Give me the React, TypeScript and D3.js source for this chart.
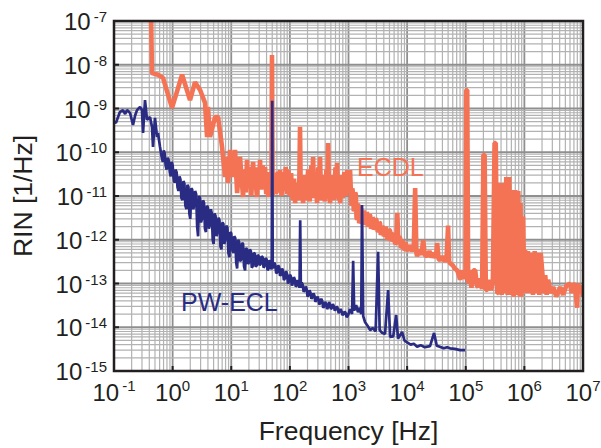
import React from "react";
import * as d3 from "d3";

const width = 601;
const height = 448;
const margin = { left: 114, right: 18, top: 21, bottom: 77 };

const xTickExps = [-1, 0, 1, 2, 3, 4, 5, 6, 7];
const yTickExps = [-15, -14, -13, -12, -11, -10, -9, -8, -7];

// PW-ECL spectrum, [frequency Hz, RIN 1/Hz]
const pwEcl: [number, number][] = [
  [0.1, 4.9e-10], [0.108, 4.7e-10], [0.126, 8.3e-10], [0.142, 9.2e-10], [0.155, 7.5e-10],
  [0.167, 9.2e-10], [0.188, 7.9e-10], [0.211, 4.2e-10], [0.23, 7.0e-10], [0.247, 9.2e-10],
  [0.278, 1.08e-9], [0.3, 9.2e-10], [0.313, 2.75e-10], [0.338, 1.56e-9], [0.366, 5.5e-10],
  [0.411, 6.4e-10], [0.445, 3.8e-10], [0.463, 1.32e-10], [0.5, 6.1e-10], [0.542, 2.23e-10],
  [0.563, 2.75e-10], [0.61, 1.32e-10], [0.63, 1.0e-10], [0.655, 7.5e-11], [0.68, 6.0e-11],
  [0.705, 1.1e-10], [0.73, 9.5e-11], [0.76, 5e-11], [0.79, 4.0e-11], [0.825, 7.5e-11],
  [0.86, 6.5e-11], [0.895, 3.5e-11], [0.93, 2.8e-11], [0.965, 6e-11], [1.0, 5.0e-11],
  [1.04, 2.6e-11], [1.08, 2.0e-11], [1.12, 4e-11], [1.17, 3.5e-11], [1.21, 1.6e-11],
  [1.26, 1.3e-11], [1.31, 2.8e-11], [1.36, 2.4e-11], [1.41, 9e-12], [1.47, 8e-12],
  [1.53, 2.2e-11], [1.59, 1.9e-11], [1.65, 6e-12], [1.72, 5e-12], [1.79, 1.8e-11],
  [1.86, 1.6e-11], [1.93, 4e-12], [2.0, 3e-12], [2.08, 1.5e-11], [2.16, 1.4e-11],
  [2.25, 5e-12], [2.33, 6e-12], [2.42, 1.3e-11], [2.52, 1.1e-11], [2.62, 2e-12],
  [2.72, 1.2e-12], [2.83, 1.0e-11], [2.94, 9e-12], [3.05, 2.5e-12], [3.17, 3e-12],
  [3.3, 8e-12], [3.43, 7e-12], [3.56, 1.8e-12], [3.7, 1.5e-12], [3.85, 6e-12],
  [4.0, 5.5e-12], [4.16, 1.8e-12], [4.32, 2.2e-12], [4.49, 5e-12], [4.66, 4e-12],
  [4.83, 1.0e-12], [5.0, 8e-13], [5.2, 4e-12], [5.4, 3.5e-12], [5.62, 1.2e-12],
  [5.85, 1.5e-12], [6.07, 3.2e-12], [6.3, 2.8e-12], [6.55, 7e-13], [6.8, 6e-13],
  [7.07, 2.5e-12], [7.35, 2.3e-12], [7.62, 8e-13], [7.9, 1.0e-12], [8.25, 2.1e-12],
  [8.6, 1.9e-12], [8.95, 5e-13], [9.3, 4e-13], [9.65, 1.5e-12], [10, 1.4e-12],
  [10.4, 6e-13], [10.8, 5e-13], [11.25, 1.2e-12], [11.7, 1.1e-12], [12.15, 3e-13],
  [12.6, 2.2e-13], [13.1, 1.0e-12], [13.6, 9e-13], [14.15, 3.2e-13], [14.7, 3.5e-13],
  [15.3, 8.5e-13], [15.9, 8e-13], [16.5, 2.5e-13], [17.2, 2e-13], [17.9, 6.5e-13],
  [18.6, 6e-13], [19.3, 2.8e-13], [20, 3e-13], [20.8, 6e-13], [21.6, 5.5e-13],
  [22.4, 2.3e-13], [23.3, 2.5e-13], [24.2, 5e-13], [25.2, 4.8e-13], [26.2, 2.4e-13],
  [27.2, 2.6e-13], [28.3, 4.5e-13], [29.4, 4.2e-13], [30.5, 2.6e-13], [31.7, 2.8e-13],
  [33, 4.2e-13], [34.3, 4e-13], [35.6, 2.3e-13], [37, 2.5e-13], [38.5, 3.8e-13],
  [40, 3.6e-13], [41.6, 2e-13], [43.2, 2.2e-13], [44.9, 3.4e-13], [46.6, 3.2e-13],
  [48, 2.1e-13], [49, 2.4e-13], [50, 1.5e-9], [51, 2.2e-13], [54, 3e-13],
  [56, 2.7e-13], [58.5, 1.7e-13], [60.5, 1.8e-13], [63, 2.6e-13], [65.5, 2.4e-13],
  [68, 1.5e-13], [70.5, 1.6e-13], [73.5, 2.2e-13], [76, 2.0e-13], [79, 1.2e-13],
  [82, 1.3e-13], [86, 1.9e-13], [89, 1.7e-13], [93, 1.0e-13], [96, 1.1e-13],
  [100, 1.6e-13], [104, 1.45e-13], [108, 9e-14], [112, 1.0e-13], [117, 1.4e-13],
  [121, 1.25e-13], [126, 8.5e-14], [131, 9e-14], [136, 1.2e-13], [141, 1.1e-13],
  [146, 8e-14], [150, 2.8e-12], [154, 8e-14], [159, 1.05e-13], [165, 9.5e-14],
  [172, 6.5e-14], [179, 7e-14], [186, 8.5e-14], [193, 7.5e-14], [200, 5e-14],
  [208, 5.5e-14], [216, 7e-14], [224, 6.2e-14], [233, 4.5e-14], [242, 4.8e-14],
  [252, 6e-14], [262, 5.3e-14], [272, 3.8e-14], [283, 4.2e-14], [294, 5e-14],
  [305, 4.5e-14], [317, 3.3e-14], [330, 3.6e-14], [343, 4.5e-14], [356, 4e-14],
  [370, 2.8e-14], [385, 3.0e-14], [400, 3.8e-14], [416, 3.4e-14], [432, 2.6e-14],
  [449, 2.9e-14], [466, 3.8e-14], [483, 3.3e-14], [500, 2.6e-14], [520, 2.8e-14],
  [540, 3.4e-14], [562, 3.0e-14], [585, 2.4e-14], [607, 2.6e-14], [630, 3.0e-14],
  [655, 2.7e-14], [680, 2.1e-14], [707, 2.3e-14], [735, 2.6e-14], [762, 2.3e-14],
  [790, 1.9e-14], [825, 2.0e-14], [860, 2.3e-14], [895, 2.1e-14], [930, 1.7e-14],
  [965, 1.8e-14], [1000, 2.0e-14], [1060, 2.6e-14], [1150, 2.0e-14], [1200, 3.3e-13],
  [1250, 2.4e-14], [1350, 3.2e-14], [1450, 2.2e-14], [1550, 2.8e-14], [1650, 2.0e-14],
  [1700, 6.2e-12], [1780, 1.8e-14], [1920, 1.3e-14], [2100, 1.1e-14], [2340, 8.6e-15],
  [2600, 9.5e-15], [2900, 8e-15], [3200, 5.3e-13], [3400, 8.5e-15], [3740, 7.5e-15],
  [4200, 7e-15], [4740, 7.1e-14], [5130, 6e-15], [5800, 6.2e-15], [6500, 1.9e-14],
  [7000, 5.5e-15], [8200, 7.8e-15], [9000, 5e-15], [1e4, 4.5e-15], [1.15e4, 4.0e-15],
  [1.3e4, 4.2e-15], [1.48e4, 3.6e-15], [1.7e4, 3.9e-15], [2e4, 3.5e-15], [2.46e4, 3.7e-15],
  [2.88e4, 7.4e-15], [3.2e4, 3.8e-15], [3.6e4, 3.6e-15], [4.2e4, 3.3e-15], [4.8e4, 3.5e-15],
  [5.4e4, 3.3e-15], [6.5e4, 3.2e-15], [8e4, 3.0e-15], [9.8e4, 3.0e-15],
];

// ECDL spectrum, [frequency Hz, RIN 1/Hz]
const ecdl: [number, number][] = [
  [0.43, 1e-7], [0.445, 6.5e-9], [0.563, 5.9e-9], [0.685, 5.0e-9], [0.977, 1.03e-9],
  [1.45, 5.9e-9], [1.98, 1.56e-9], [2.41, 4.0e-9], [2.94, 2.65e-9], [3.57, 1.34e-9],
  [3.87, 2.23e-10], [4.0, 1.08e-9], [4.35, 2.23e-10], [5.3, 6.4e-10], [5.96, 6.4e-10],
  [6.97, 1.32e-10], [7.84, 2.7e-11], [8.47, 7.8e-11], [8.8, 1.98e-11], [9.55, 1.13e-10],
  [10.7, 2.7e-11], [11.6, 1.13e-10], [12.6, 1.17e-11], [14.1, 7.8e-11], [15.9, 9.5e-12],
  [16.5, 2.5e-11], [17.0, 4.0e-11], [17.4, 2.2e-11], [17.8, 1.2e-11], [18.2, 3.5e-11],
  [18.6, 6.7e-11], [19.0, 3.0e-11], [19.5, 1.5e-11], [20.2, 2.8e-11], [20.9, 4.6e-11],
  [21.4, 1.8e-11], [22.0, 1.0e-11], [22.8, 3.0e-11], [23.6, 6.0e-11], [24.0, 3.5e-11],
  [24.5, 2.0e-11], [25.0, 3.2e-11], [25.5, 4.5e-11], [26.5, 1.6e-11], [27.5, 9.5e-12],
  [28.2, 2.2e-11], [29.0, 3.5e-11], [30.0, 2.5e-11], [31.0, 6.7e-11], [31.7, 2.5e-11],
  [32.5, 1.4e-11], [33.5, 3.0e-11], [34.5, 5.0e-11], [35.2, 2.6e-11], [36.0, 1.8e-11],
  [36.8, 3.2e-11], [37.7, 4.6e-11], [38.6, 2.0e-11], [39.5, 1.1e-11], [40.2, 2.0e-11],
  [41.0, 3.0e-11], [41.8, 1.5e-11], [42.5, 9.5e-12], [43.5, 2.2e-11], [44.5, 3.5e-11],
  [45.5, 1.8e-11], [46.5, 1.2e-11], [47.5, 2.0e-11], [48.5, 2.5e-11], [49.5, 1.67e-8],
  [51, 1.0e-11], [52, 2.0e-11], [53, 2.8e-11], [54.5, 1.6e-11], [55.8, 3.35e-11],
  [57, 1.8e-11], [58, 1.1e-11], [60, 2.2e-11], [62, 3.6e-11], [63.5, 2.0e-11],
  [65, 1.2e-11], [66.5, 2.5e-11], [68, 3.9e-11], [70, 2.0e-11], [72, 1.0e-11],
  [74, 2.0e-11], [76, 3.5e-11], [78, 2.0e-11], [80, 1.3e-11], [82.5, 2.6e-11],
  [85, 4.6e-11], [87, 2.2e-11], [89.6, 1.1e-11], [92, 2.2e-11], [94, 4.0e-11],
  [97, 1.8e-11], [100, 1.0e-11], [102.5, 2.0e-11], [105, 3.35e-11], [108, 1.5e-11],
  [112, 8e-12], [115, 1.6e-11], [118, 2.5e-11], [120, 1.2e-11], [123, 6.9e-12],
  [125.5, 1.4e-11], [128, 2.0e-11], [132, 1.0e-11], [136, 1.5e-11], [140, 8e-12],
  [144, 1.2e-11], [149, 3.8e-10], [153, 1.2e-11], [158, 8e-12], [163, 1.4e-11],
  [168, 6.9e-12], [174, 1.6e-11], [180, 3.0e-11], [186, 1.2e-11], [192, 8e-12],
  [198, 2.0e-11], [205, 4.0e-11], [211, 1.4e-11], [218, 7.5e-12], [225, 2.2e-11],
  [232, 5.0e-11], [240, 2.0e-11], [249, 7.8e-11], [254, 2.5e-11], [260, 9e-12],
  [267, 1.8e-11], [275, 3.5e-11], [283, 1.4e-11], [291, 6.9e-12], [298, 2.0e-11],
  [305, 4.5e-11], [316, 1.5e-11], [327, 7.8e-11], [336, 2.0e-11], [345, 8e-12],
  [357, 1.6e-11], [370, 3.0e-11], [382, 1.2e-11], [395, 7.5e-12], [407, 1.8e-11],
  [420, 4.0e-11], [434, 1.5e-11], [449, 1.62e-10], [466, 1.2e-11], [485, 6.9e-12],
  [502, 1.5e-11], [520, 3.0e-11], [540, 1.3e-11], [560, 8e-12], [580, 2.0e-11],
  [600, 4.5e-11], [618, 1.5e-11], [638, 5.7e-11], [658, 1.5e-11], [680, 8e-12],
  [700, 1.5e-11], [719, 6.9e-12], [740, 1.6e-11], [760, 3.0e-11], [780, 1.4e-11],
  [800, 9e-12], [825, 1.8e-11], [850, 3.5e-11], [875, 1.5e-11], [900, 1.0e-11],
  [923, 2.0e-11], [946, 3.9e-11], [972, 1.6e-11], [1000, 1.2e-11],
  [1064, 3.9e-11], [1120, 6e-12], [1160, 1.5e-11], [1197, 1.17e-11], [1230, 4.5e-12],
  [1260, 4.8e-12], [1300, 1.2e-11], [1330, 1.1e-11], [1370, 3.2e-12], [1400, 2.9e-12],
  [1440, 6.5e-12], [1480, 6e-12], [1520, 2.4e-12], [1560, 2.6e-12], [1600, 5.5e-12],
  [1650, 5e-12], [1700, 2.3e-12], [1750, 2.5e-12], [1800, 4.5e-12], [1850, 4.2e-12],
  [1920, 2.2e-12], [2000, 2.6e-12], [2040, 4.2e-12], [2080, 4.0e-12], [2140, 2.0e-12],
  [2200, 2.2e-12], [2280, 3.7e-12], [2350, 3.5e-12], [2420, 1.8e-12], [2500, 2.0e-12],
  [2580, 3.2e-12], [2650, 3.0e-12], [2720, 1.7e-12], [2800, 1.9e-12], [2900, 3.0e-12],
  [3000, 2.8e-12], [3080, 2.1e-12], [3160, 1.5e-12], [3250, 1.6e-12], [3350, 2.5e-12],
  [3450, 2.4e-12], [3550, 1.3e-12], [3650, 1.4e-12], [3770, 2.0e-12], [3890, 1.9e-12],
  [4000, 1.2e-12], [4100, 1.3e-12], [4250, 1.9e-12], [4400, 1.8e-12], [4550, 1.0e-12],
  [4700, 1.1e-12], [4900, 1.7e-12], [5130, 1.6e-12], [5300, 9.5e-13], [5500, 1.0e-12],
  [5750, 1.4e-12], [6000, 1.3e-12], [6250, 8e-13], [6500, 8.4e-13], [6800, 4.1e-12],
  [7100, 8e-13], [7350, 1.15e-12], [7600, 1.1e-12], [7850, 6.5e-13], [8100, 6.8e-13],
  [8300, 9.5e-13], [8550, 9e-13], [8800, 5.8e-13], [9000, 6e-13], [9250, 8.5e-13],
  [9500, 8e-13], [9750, 5.6e-13], [1.0e4, 5.8e-13], [1.1e4, 7.5e-13], [1.2e4, 5.5e-13],
  [1.3e4, 7e-13], [1.37e4, 1.52e-11], [1.44e4, 5e-13], [1.48e4, 4.2e-13], [1.6e4, 6e-13],
  [1.75e4, 4.5e-13], [1.88e4, 9.9e-13], [2.0e4, 4.5e-13], [2.19e4, 4.2e-13], [2.4e4, 5.5e-13],
  [2.6e4, 4e-13], [2.9e4, 5e-13], [3.1e4, 3.8e-13], [3.25e4, 8.4e-13], [3.45e4, 3.6e-13],
  [3.66e4, 3.4e-13], [4.0e4, 4.2e-13], [4.4e4, 3.2e-13], [4.7e4, 3.8e-13], [5.0e4, 2.1e-12],
  [5.2e4, 3.2e-13], [5.42e4, 2.9e-13], [6.0e4, 2.6e-13], [6.5e4, 2.2e-13], [7.13e4, 2.0e-13],
  [7.6e4, 1.6e-13], [8.0e4, 1.22e-13], [8.6e4, 2.0e-13], [9.3e4, 1.3e-13], [9.9e4, 1.5e-13],
  [1.02e5, 2.65e-9], [1.06e5, 2.65e-9], [1.1e5, 1.0e-13], [1.17e5, 2.0e-13], [1.25e5, 8e-14],
  [1.35e5, 2.0e-13], [1.45e5, 2.0e-13], [1.55e5, 9e-14], [1.63e5, 8.3e-14], [1.75e5, 1.3e-13],
  [1.9e5, 7.5e-14], [2.0e5, 8.7e-11], [2.1e5, 8.7e-11], [2.2e5, 7.1e-14], [2.32e5, 7.1e-14],
  [2.5e5, 1.2e-13], [2.7e5, 7e-14], [2.9e5, 1.1e-13], [3.1e5, 1.62e-10], [3.25e5, 1.62e-10],
  [3.45e5, 6.1e-14], [3.57e5, 6.1e-14], [3.87e5, 1.98e-11], [4.1e5, 5.5e-14], [4.36e5, 1.98e-11],
  [4.63e5, 6e-14], [4.91e5, 2.7e-11], [5.2e5, 5.5e-14], [5.52e5, 2.7e-11], [5.86e5, 5.5e-14],
  [6.22e5, 1.37e-11], [6.6e5, 5e-14], [7.0e5, 1.37e-11], [7.43e5, 5.5e-14], [7.88e5, 1.3e-11],
  [8.36e5, 5e-14], [8.6e5, 6.9e-12], [8.9e5, 5e-14], [9.5e5, 3.4e-12], [1.0e6, 6e-14],
  [1.03e6, 5.8e-13], [1.08e6, 6e-14], [1.15e6, 5.5e-13], [1.22e6, 6e-14], [1.3e6, 5e-13],
  [1.4e6, 5.5e-14], [1.5e6, 5.5e-13], [1.6e6, 6e-14], [1.7e6, 5e-13], [1.8e6, 5.5e-14],
  [1.9e6, 5e-13], [2.01e6, 2.0e-13], [2.15e6, 6e-14], [2.27e6, 1.56e-13], [2.4e6, 5.5e-14],
  [2.55e6, 1.22e-13], [2.8e6, 6e-14], [3.1e6, 8.3e-14], [3.5e6, 5e-14], [4.08e6, 8.3e-14],
  [4.6e6, 5.5e-14], [5.2e6, 9e-14], [6.05e6, 1.0e-13], [6.4e6, 6e-14], [6.8e6, 1.0e-13],
  [7.3e6, 9e-14], [7.94e6, 2.8e-14], [8.2e6, 1.0e-13], [8.8e6, 6e-14], [9.3e6, 9e-14],
  [1e7, 5e-14],
];

const ecdlColor = "#f47355";
const pwColor = "#2a2c84";
const textColor = "#231f20";
const font = "'Liberation Sans', Arial, sans-serif";

export default function App() {
  const x = d3
    .scaleLog()
    .domain([1e-1, 1e7])
    .range([margin.left, width - margin.right]);
  const y = d3
    .scaleLog()
    .domain([1e-15, 1e-7])
    .range([height - margin.bottom, margin.top]);

  const line = d3
    .line<[number, number]>()
    .x((d) => x(d[0]))
    .y((d) => y(d[1]));

  const [x0, x1] = x.range();
  const [y0, y1] = y.range();

  // grid lines: decades plus 2..9 in between
  const xGrid: { v: number; major: boolean }[] = [];
  for (let e = -1; e < 7; e++)
    for (let m = 1; m < 10; m++) xGrid.push({ v: m * 10 ** e, major: m === 1 });
  const yGrid: { v: number; major: boolean }[] = [];
  for (let e = -15; e < -7; e++)
    for (let m = 1; m < 10; m++) yGrid.push({ v: m * 10 ** e, major: m === 1 });

  return (
    <svg
      width={width}
      height={height}
      style={{ position: "absolute", left: 0, top: 0, background: "#fff" }}
      fontFamily={font}
    >
      <defs>
        <clipPath id="plot">
          <rect x={x0} y={y1} width={x1 - x0} height={y0 - y1} />
        </clipPath>
      </defs>
      <rect width={width} height={height} fill="#fff" />

      <g>
        {xGrid.map((g, i) => (
          <line
            key={"gx" + i}
            x1={x(g.v)}
            x2={x(g.v)}
            y1={y1}
            y2={y0}
            stroke={g.major ? "#8f8f8f" : "#b2b2b2"}
            strokeWidth={g.major ? 1.8 : 1.2}
          />
        ))}
        {yGrid.map((g, i) => (
          <line
            key={"gy" + i}
            x1={x0}
            x2={x1}
            y1={y(g.v)}
            y2={y(g.v)}
            stroke={g.major ? "#8f8f8f" : "#b2b2b2"}
            strokeWidth={g.major ? 1.8 : 1.2}
          />
        ))}
      </g>

      <g clipPath="url(#plot)" fill="none">
        <path d={line(ecdl) || ""} stroke={ecdlColor} strokeWidth={4.6} strokeLinejoin="bevel" />
        <path d={line(pwEcl) || ""} stroke={pwColor} strokeWidth={2.7} strokeLinejoin="bevel" />
      </g>

      <rect
        x={x0}
        y={y1}
        width={x1 - x0}
        height={y0 - y1}
        fill="none"
        stroke={textColor}
        strokeWidth={2.5}
      />

      {xTickExps.map((e) => (
        <g key={"xt" + e}>
          <line x1={x(10 ** e)} x2={x(10 ** e)} y1={y0} y2={y0 - 5} stroke={textColor} strokeWidth={2} />
          <text x={x(10 ** e)} y={y0 + 30} textAnchor="middle" fontSize={24} fill={textColor}>
            10
            <tspan dx={e < 0 ? 3 : 0} dy={-10} fontSize={15}>
              {e}
            </tspan>
          </text>
        </g>
      ))}

      {yTickExps.map((e) => (
        <g key={"yt" + e}>
          <line x1={x0} x2={x0 + 5} y1={y(10 ** e)} y2={y(10 ** e)} stroke={textColor} strokeWidth={2} />
          <text x={x0 - 7} y={y(10 ** e) + 9} textAnchor="end" fontSize={24} fill={textColor}>
            10
            <tspan dx={3} dy={-8} fontSize={15}>
              {e}
            </tspan>
          </text>
        </g>
      ))}

      <text x={(x0 + x1) / 2} y={440} textAnchor="middle" fontSize={26.5} fill={textColor}>
        Frequency [Hz]
      </text>
      <text
        transform={`translate(32, ${(y0 + y1) / 2}) rotate(-90)`}
        textAnchor="middle"
        fontSize={26.5}
        fill={textColor}
      >
        RIN [1/Hz]
      </text>

      <text x={357} y={176} fontSize={25} fill={ecdlColor}>
        ECDL
      </text>
      <text x={181} y={311} fontSize={25} fill={pwColor}>
        PW-ECL
      </text>
    </svg>
  );
}
